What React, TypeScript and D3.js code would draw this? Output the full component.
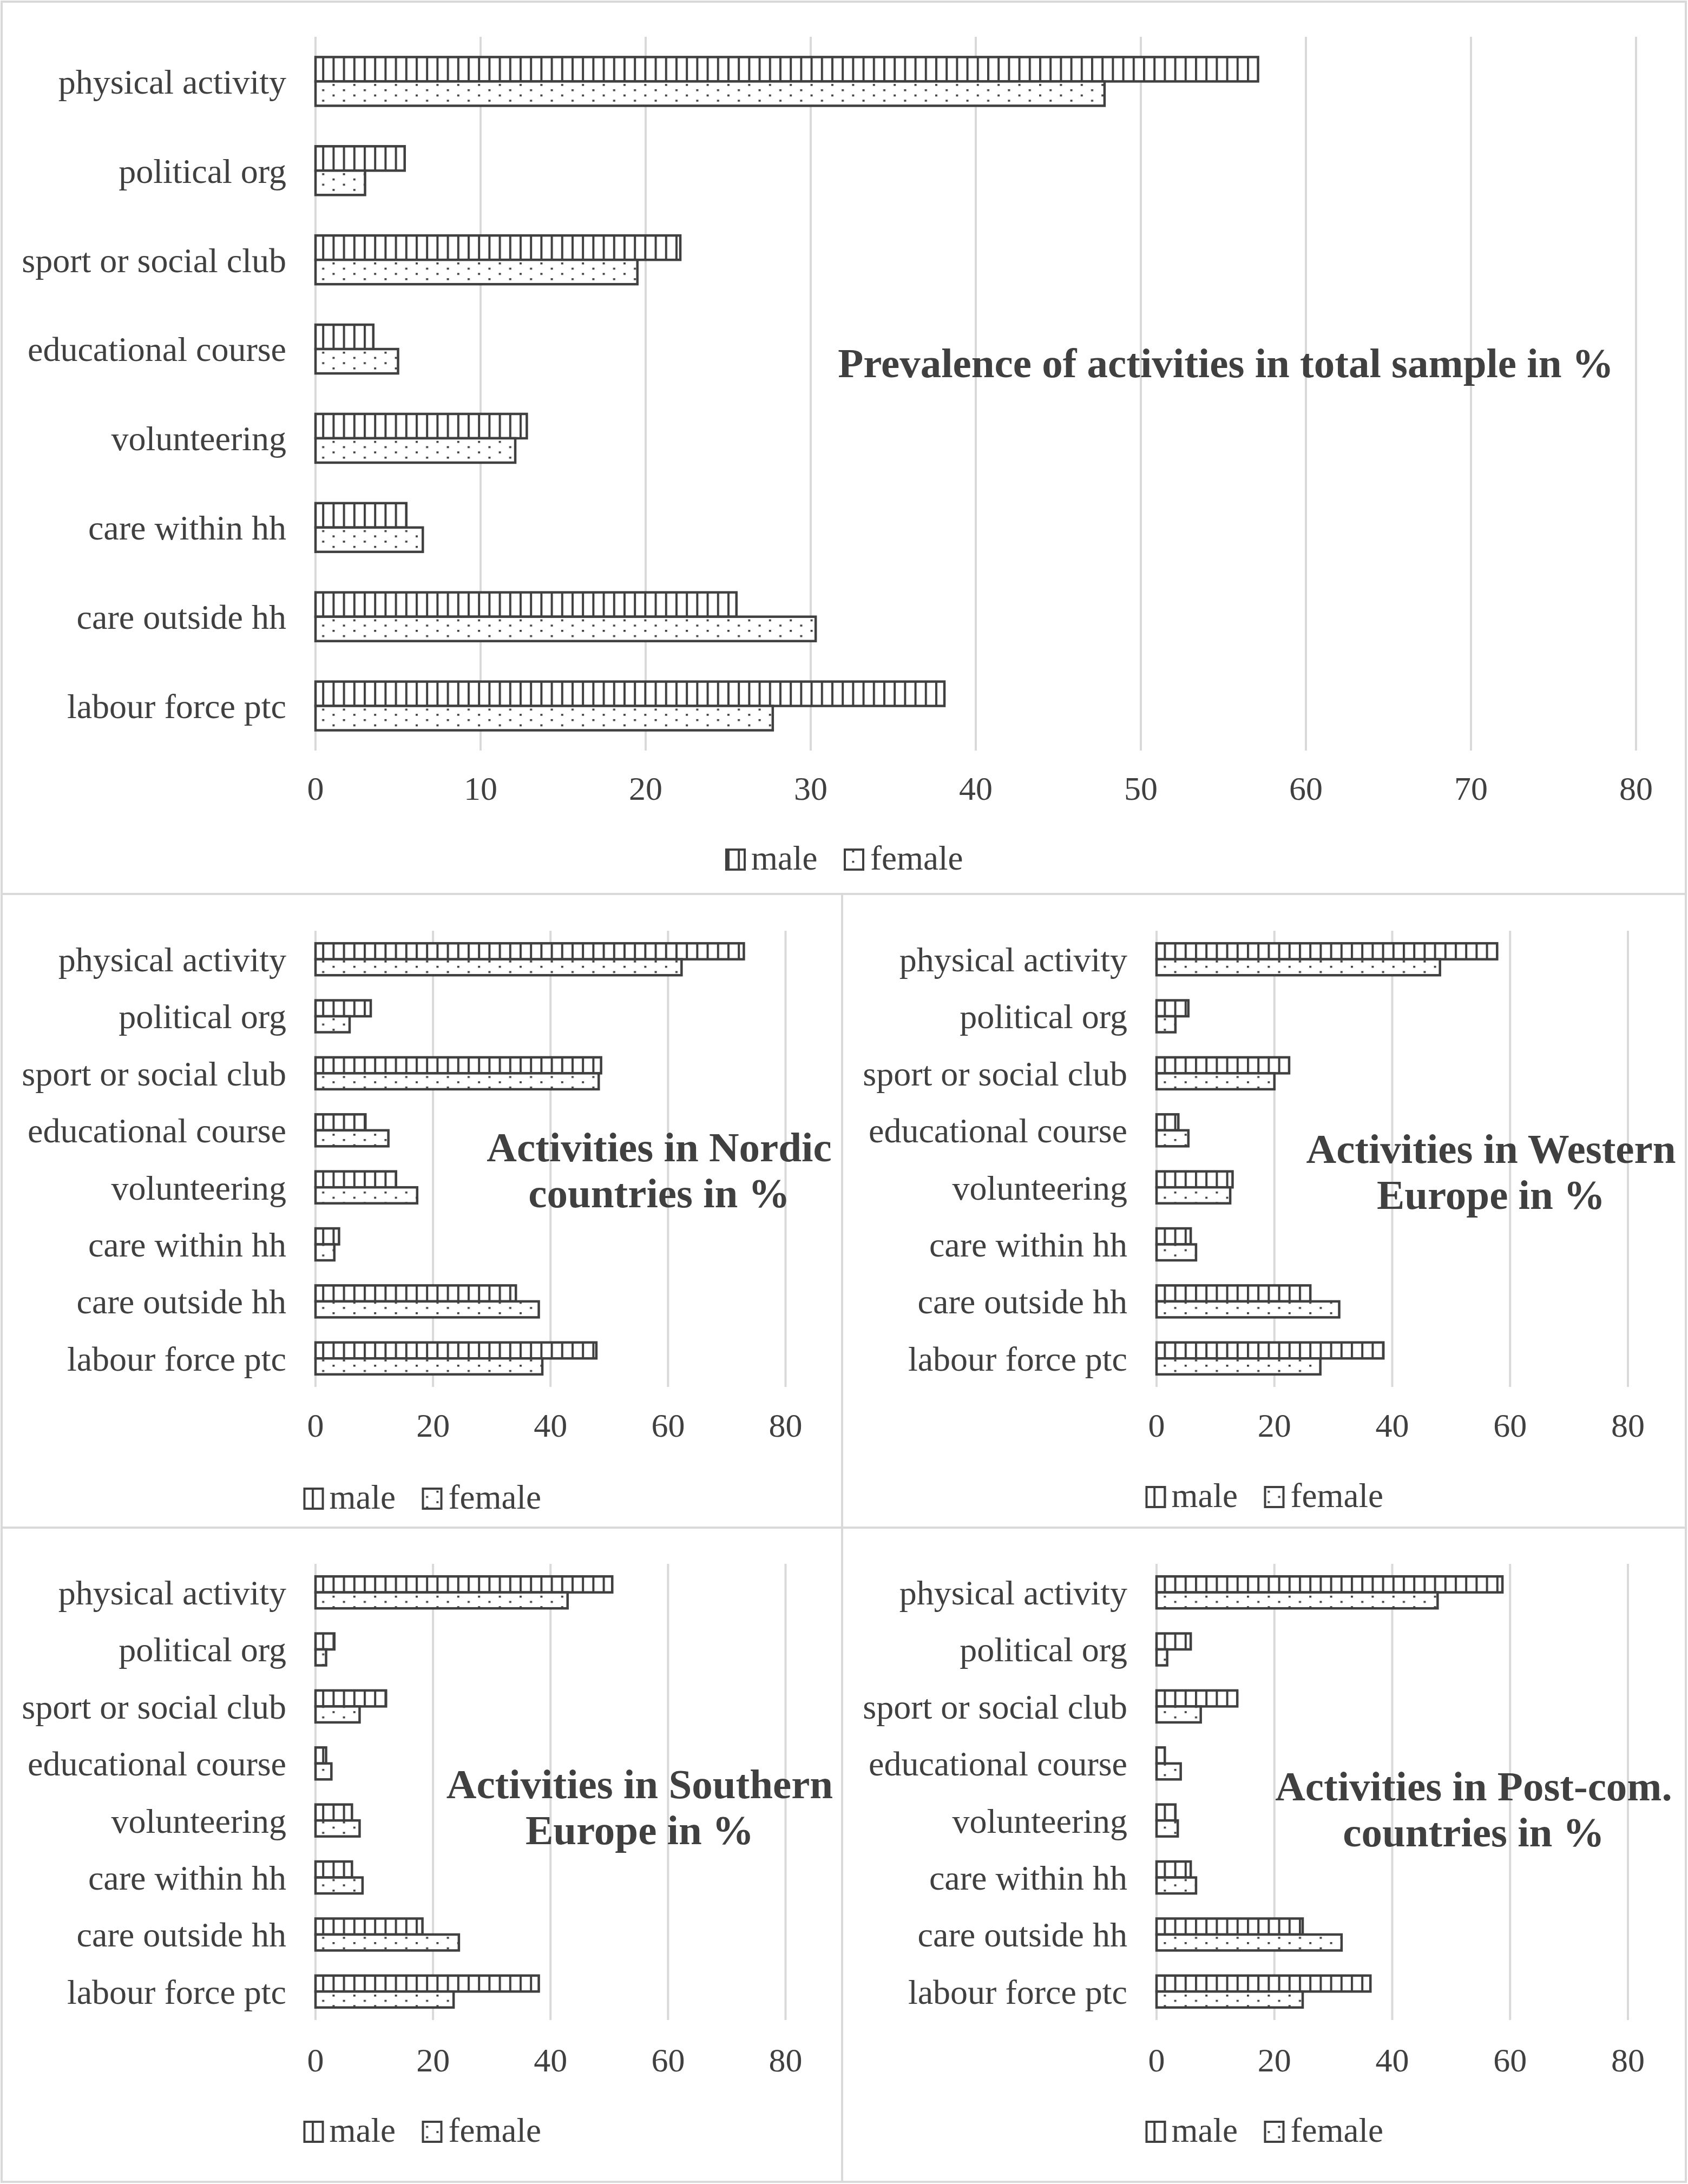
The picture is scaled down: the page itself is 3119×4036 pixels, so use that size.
import * as d3 from "d3";

// activities, top to bottom
const categories = [
  "physical activity",
  "political org",
  "sport or social club",
  "educational course",
  "volunteering",
  "care within hh",
  "care outside hh",
  "labour force ptc",
];

const series = ["male", "female"];

// values in %
const totalMale = [57.1, 5.4, 22.1, 3.5, 12.8, 5.5, 25.5, 38.1];
const totalFemale = [47.8, 3.0, 19.5, 5.0, 12.1, 6.5, 30.3, 27.7];
const nordicMale = [72.9, 9.4, 48.6, 8.5, 13.7, 4.0, 34.1, 47.8];
const nordicFemale = [62.3, 5.8, 48.2, 12.4, 17.3, 3.2, 38.0, 38.6];
const westernMale = [57.8, 5.4, 22.5, 3.7, 12.9, 5.8, 26.1, 38.5];
const westernFemale = [48.1, 3.2, 20.0, 5.4, 12.5, 6.7, 31.0, 27.8];
const southernMale = [50.5, 3.2, 12.0, 1.8, 6.2, 6.2, 18.2, 38.0];
const southernFemale = [42.9, 1.8, 7.5, 2.7, 7.5, 8.0, 24.4, 23.5];
const postcomMale = [58.7, 5.8, 13.7, 1.4, 3.2, 5.8, 24.8, 36.3];
const postcomFemale = [47.7, 1.8, 7.5, 4.1, 3.6, 6.7, 31.4, 24.8];

const wideTicks = [0, 10, 20, 30, 40, 50, 60, 70, 80];
const narrowTicks = [0, 20, 40, 60, 80];

const W = 3119;
const H = 4036;
const INK = "#404040";
const GRID = "#d9d9d9";
const FONT = "'Liberation Serif', 'Times New Roman', serif";

interface PanelProps {
  male: number[];
  female: number[];
  ticks: number[];
  box: [number, number, number, number];
  xRange: [number, number];
  yRange: [number, number];
  pad: number;
  title: string[];
  titleX: number;
  titleY: number;
  tickY: number;
  legendY: number;
}

function Panel({
  male,
  female,
  ticks,
  box,
  xRange,
  yRange,
  pad,
  title,
  titleX,
  titleY,
  tickY,
  legendY,
}: PanelProps) {
  const x = d3.scaleLinear().domain([0, 80]).range(xRange);
  const y = d3
    .scaleBand<string>()
    .domain(categories)
    .range(yRange)
    .paddingInner(pad)
    .paddingOuter(pad / 2);
  const sub = d3
    .scaleBand<string>()
    .domain(series)
    .range([0, y.bandwidth()]);

  const [bx0, by0, bx1, by1] = box;
  const legendX = (bx0 + bx1) / 2 - 217;

  return (
    <g>
      <rect
        x={bx0}
        y={by0}
        width={bx1 - bx0}
        height={by1 - by0}
        fill="white"
        stroke={GRID}
        strokeWidth={4}
      />
      {/* grid */}
      {ticks.map((t) => (
        <line
          key={t}
          x1={x(t)}
          x2={x(t)}
          y1={yRange[0]}
          y2={yRange[1]}
          stroke={GRID}
          strokeWidth={4}
        />
      ))}
      {/* bars */}
      {categories.map((c, i) => (
        <g key={c}>
          <rect
            x={x(0)}
            y={(y(c) ?? 0) + (sub("male") ?? 0)}
            width={x(male[i]) - x(0)}
            height={sub.bandwidth()}
            fill="url(#vlines)"
            stroke={INK}
            strokeWidth={4.5}
          />
          <rect
            x={x(0)}
            y={(y(c) ?? 0) + (sub("female") ?? 0)}
            width={x(female[i]) - x(0)}
            height={sub.bandwidth()}
            fill="url(#dots)"
            stroke={INK}
            strokeWidth={4.5}
          />
          <text
            x={x(0) - 54}
            y={(y(c) ?? 0) + y.bandwidth() / 2}
            dy="0.35em"
            textAnchor="end"
            fontSize={64}
            fill={INK}
          >
            {c}
          </text>
        </g>
      ))}
      {/* tick labels */}
      {ticks.map((t) => (
        <text key={t} x={x(t)} y={tickY} textAnchor="middle" fontSize={62} fill={INK}>
          {t}
        </text>
      ))}
      {/* title */}
      <text
        x={titleX}
        y={titleY}
        textAnchor="middle"
        fontSize={77}
        fontWeight="bold"
        fill={INK}
      >
        {title.map((line, i) => (
          <tspan key={line} x={titleX} dy={i === 0 ? 0 : 85}>
            {line}
          </tspan>
        ))}
      </text>
      {/* legend */}
      <rect
        x={legendX}
        y={legendY - 37}
        width={34}
        height={37}
        fill="url(#vlines)"
        stroke={INK}
        strokeWidth={4}
      />
      <text x={legendX + 46} y={legendY} fontSize={63} fill={INK}>
        male
      </text>
      <rect
        x={legendX + 219}
        y={legendY - 37}
        width={34}
        height={37}
        fill="url(#dots)"
        stroke={INK}
        strokeWidth={4}
      />
      <text x={legendX + 266} y={legendY} fontSize={63} fill={INK}>
        female
      </text>
    </g>
  );
}

export default function App() {
  return (
    <svg
      width={W}
      height={H}
      style={{ position: "absolute", left: 0, top: 0, fontFamily: FONT }}
    >
      <defs>
        <pattern id="vlines" patternUnits="userSpaceOnUse" width={19.2} height={20}>
          <rect width={19.2} height={20} fill="white" />
          <rect x={0} y={0} width={4} height={20} fill={INK} />
        </pattern>
        <pattern id="dots" patternUnits="userSpaceOnUse" width={38.4} height={19.4}>
          <rect width={38.4} height={19.4} fill="white" />
          <rect x={0} y={0} width={4} height={3.6} fill={INK} />
          <rect x={19.2} y={9.7} width={4} height={3.6} fill={INK} />
        </pattern>
      </defs>
      <rect width={W} height={H} fill="white" />

      <Panel
        male={totalMale}
        female={totalFemale}
        ticks={wideTicks}
        box={[3, 3, 3115, 1652]}
        xRange={[583, 3023]}
        yRange={[68, 1387]}
        pad={0.454}
        title={["Prevalence of activities in total sample in %"]}
        titleX={2265}
        titleY={697}
        tickY={1478}
        legendY={1607}
      />
      <Panel
        male={nordicMale}
        female={nordicFemale}
        ticks={narrowTicks}
        box={[3, 1652, 1556, 2823]}
        xRange={[583, 1451.5]}
        yRange={[1720, 2563]}
        pad={0.44}
        title={["Activities in Nordic", "countries in %"]}
        titleX={1218}
        titleY={2146}
        tickY={2655}
        legendY={2788}
      />
      <Panel
        male={westernMale}
        female={westernFemale}
        ticks={narrowTicks}
        box={[1556, 1652, 3115, 2823]}
        xRange={[2137, 3008]}
        yRange={[1720, 2563]}
        pad={0.44}
        title={["Activities in Western", "Europe in %"]}
        titleX={2755}
        titleY={2149}
        tickY={2655}
        legendY={2785}
      />
      <Panel
        male={southernMale}
        female={southernFemale}
        ticks={narrowTicks}
        box={[3, 2823, 1556, 4032]}
        xRange={[583, 1451.5]}
        yRange={[2890, 3733]}
        pad={0.44}
        title={["Activities in Southern", "Europe in %"]}
        titleX={1182}
        titleY={3323}
        tickY={3828}
        legendY={3958}
      />
      <Panel
        male={postcomMale}
        female={postcomFemale}
        ticks={narrowTicks}
        box={[1556, 2823, 3115, 4032]}
        xRange={[2137, 3008]}
        yRange={[2890, 3733]}
        pad={0.44}
        title={["Activities in Post-com.", "countries in %"]}
        titleX={2723}
        titleY={3327}
        tickY={3828}
        legendY={3958}
      />
    </svg>
  );
}
